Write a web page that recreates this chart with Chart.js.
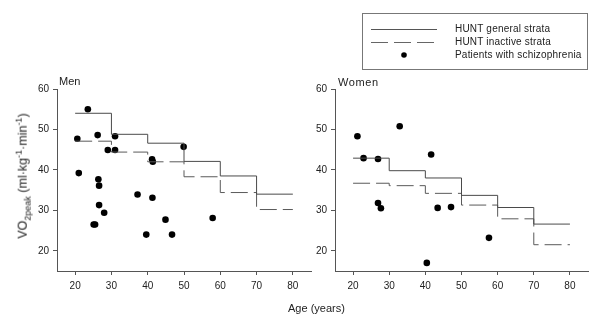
<!DOCTYPE html>
<html><head><meta charset="utf-8">
<script src="https://cdn.jsdelivr.net/npm/chart.js@4.4.1/dist/chart.umd.min.js"></script>
<style>
html,body{margin:0;padding:0;background:#fff;}
body{width:600px;height:321px;position:relative;overflow:hidden;font-family:"Liberation Sans",Arial,sans-serif;color:#222;}
canvas{position:absolute;top:0;}
#men{left:0;}
#women{left:300px;}
.lbl{position:absolute;font-size:11px;color:#222;white-space:nowrap;}
#legend{position:absolute;left:362px;top:13px;width:224px;height:55px;border:1px solid #777;}
.row{position:absolute;left:0;height:14px;width:224px;font-size:10px;white-space:nowrap;}
.row span{position:absolute;left:92px;top:0;line-height:14px;letter-spacing:0.2px;}
.row svg{position:absolute;left:8px;top:0;}
#ytitle{position:absolute;left:23px;top:176px;transform:translate(-50%,-50%) rotate(-90deg);font-size:12.5px;white-space:nowrap;}
#ytitle sub,#ytitle sup{font-size:9px;}
</style></head><body>
<canvas id="men" width="320" height="321"></canvas>
<canvas id="women" width="300" height="321"></canvas>
<div class="lbl" style="left:59px;top:75px;">Men</div>
<div class="lbl" style="left:338px;top:76px;letter-spacing:0.6px;">Women</div>
<div id="ytitle">VO<sub>2peak</sub> (ml·kg<sup>-1</sup>·min<sup>-1</sup>)</div>
<div class="lbl" style="left:288px;top:302px;">Age (years)</div>
<div id="legend">
 <div class="row" style="top:8px;"><svg width="70" height="14"><line x1="0" y1="7.5" x2="66" y2="7.5" stroke="#555" stroke-width="1"/></svg><span>HUNT general strata</span></div>
 <div class="row" style="top:21px;"><svg width="70" height="14"><line x1="0" y1="7.5" x2="66" y2="7.5" stroke="#666" stroke-width="1" stroke-dasharray="17,6"/></svg><span>HUNT inactive strata</span></div>
 <div class="row" style="top:34px;"><svg width="70" height="14"><circle cx="33" cy="7" r="2.8" fill="#000"/></svg><span>Patients with schizophrenia</span></div>
</div>
<script>
// Age stratum boundaries (years)
const strataEdges = [20, 30, 40, 50, 60, 70, 80];
// HUNT reference values per stratum (VO2peak, ml/kg/min)
const menGeneral    = [54.0, 48.8, 46.6, 42.1, 38.5, 34.0];
const menInactive   = [47.1, 44.4, 42.0, 38.3, 34.4, 30.2];
const womenGeneral  = [42.9, 39.8, 38.0, 33.7, 30.7, 26.6];
const womenInactive = [36.7, 36.1, 34.2, 31.3, 27.9, 21.5];
// Patients with schizophrenia
const menAges  = [23.5, 20.6, 26.2, 31.0, 29.0, 31.0, 21.0, 26.4, 26.6, 26.6, 28.0, 25.1, 25.5, 37.2, 41.3, 41.2, 41.4, 39.6, 46.7, 44.9, 49.9, 57.9];
const menVO2   = [55.0, 47.7, 48.6, 48.3, 44.9, 44.9, 39.2, 37.7, 36.1, 31.3, 29.4, 26.5, 26.5, 33.9, 33.1, 42.6, 42.0, 24.0, 24.0, 27.7, 45.7, 28.1];
const womenAges = [21.2, 22.9, 26.9, 26.9, 27.7, 32.9, 41.6, 43.4, 47.1, 57.6, 40.4];
const womenVO2  = [48.3, 42.9, 42.7, 31.8, 30.5, 50.8, 43.8, 30.6, 30.8, 23.2, 17.0];
// Tick labels
const xTicks = [20, 30, 40, 50, 60, 70, 80];
const yTicks = [20, 30, 40, 50, 60];

const FONT = "'Liberation Sans', Arial, sans-serif";
function steps(vals){ return strataEdges.map((e,i)=>({x:e, y:vals[Math.min(i, vals.length-1)]})); }
function pts(xs, ys){ return xs.map((x,i)=>({x:x, y:ys[i]})); }

function makeChart(id, points, gen, inact, padLeft, padRight){
  new Chart(document.getElementById(id), {
    type: 'scatter',
    data: { datasets: [
      { type:'line', data: steps(gen), stepped:'before', borderColor:'#4a4a4a', borderWidth:1, pointRadius:0, fill:false },
      { type:'line', data: steps(inact), stepped:'before', borderColor:'#5a5a5a', borderWidth:1, borderDash:[17,6], pointRadius:0, fill:false },
      { data: points, pointRadius:3.3, pointBackgroundColor:'#000', pointBorderColor:'#000', pointBorderWidth:0 }
    ]},
    options: {
      responsive:false, animation:false, devicePixelRatio:1,
      layout:{ padding:{ left:padLeft, right:padRight, top:89, bottom:28 } },
      plugins:{ legend:{display:false}, tooltip:{enabled:false} },
      scales:{
        x:{ type:'linear', min:15, max:85,
            afterBuildTicks:a=>{ a.ticks = xTicks.map(v=>({value:v})); },
            afterFit:a=>{ a.height = 22; },
            grid:{ drawOnChartArea:false, tickLength:4, color:'#555' },
            border:{ color:'#555', width:1 },
            ticks:{ font:{size:10, family:FONT}, color:'#222', padding:5 } },
        y:{ type:'linear', min:15, max:60,
            afterBuildTicks:a=>{ a.ticks = yTicks.map(v=>({value:v})); },
            afterFit:a=>{ a.width = 30; },
            grid:{ drawOnChartArea:false, tickLength:4, color:'#555' },
            border:{ color:'#555', width:1 },
            ticks:{ font:{size:10, family:FONT}, color:'#222', padding:4 } }
      }
    }
  });
}
makeChart('men', pts(menAges, menVO2), menGeneral, menInactive, 27, 9);
makeChart('women', pts(womenAges, womenVO2), womenGeneral, womenInactive, 5, 12);
</script>
</body></html>
